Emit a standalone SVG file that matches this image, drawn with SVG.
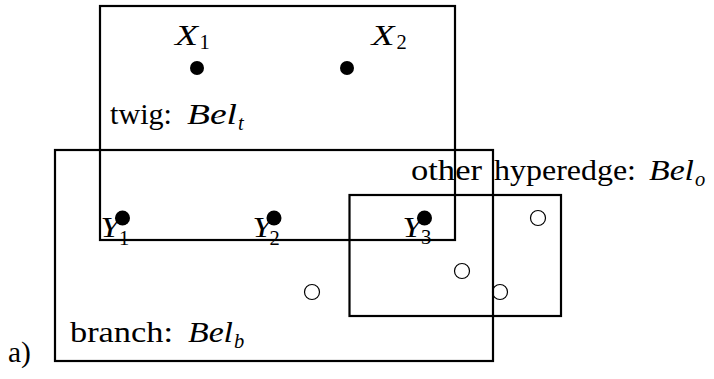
<svg xmlns="http://www.w3.org/2000/svg" width="714" height="379" viewBox="0 0 714 379">
<style>
.box{fill:none;stroke:#000;stroke-width:2.2}
.dot{fill:#000}
.open{fill:none;stroke:#000;stroke-width:1.2}
text{font-family:"Times New Roman","Liberation Serif",serif;fill:#000}
.t{font-size:29.5px}
.m{font-size:29.5px;font-style:italic}
.s{font-size:20.5px}
.si{font-size:20.5px;font-style:italic}
</style>
<rect width="714" height="379" fill="#fff"/>
<g id="twig">
<rect class="box" x="100" y="6" width="355" height="234"/>
<text class="t" x="110" y="123.5" textLength="62" lengthAdjust="spacingAndGlyphs">twig:</text>
<text class="m" x="187" y="123.5" textLength="50" lengthAdjust="spacingAndGlyphs">Bel</text>
<text class="si" x="238" y="129.5">t</text>
</g>
<g id="branch">
<rect class="box" x="55" y="150" width="438" height="211"/>
<text class="t" x="70" y="342" textLength="103" lengthAdjust="spacingAndGlyphs">branch:</text>
<text class="m" x="188" y="342" textLength="45" lengthAdjust="spacingAndGlyphs">Bel</text>
<text class="si" x="234" y="347.5">b</text>
</g>
<g id="other">
<rect class="box" x="349.5" y="195" width="211.5" height="121"/>
<text class="t" x="411" y="180" textLength="71" lengthAdjust="spacingAndGlyphs">other</text>
<text class="t" x="494" y="180" textLength="142" lengthAdjust="spacingAndGlyphs">hyperedge:</text>
<text class="m" x="649" y="180" textLength="45" lengthAdjust="spacingAndGlyphs">Bel</text>
<text class="si" x="695" y="185.5">o</text>
</g>
<g id="X1">
<circle class="dot" cx="197" cy="68" r="7"/>
<text class="m" x="175" y="44.5" textLength="23" lengthAdjust="spacingAndGlyphs">X</text>
<text class="s" x="199.5" y="49">1</text>
</g>
<g id="X2">
<circle class="dot" cx="347" cy="68" r="7"/>
<text class="m" x="371.5" y="44.5" textLength="23" lengthAdjust="spacingAndGlyphs">X</text>
<text class="s" x="396.5" y="49">2</text>
</g>
<g id="Y1">
<circle class="dot" cx="122.5" cy="218" r="7.5"/>
<text class="m" x="100.5" y="237" textLength="19" lengthAdjust="spacingAndGlyphs">Y</text>
<text class="s" x="119" y="244.5">1</text>
</g>
<g id="Y2">
<circle class="dot" cx="274" cy="218" r="7.5"/>
<text class="m" x="252.5" y="237" textLength="19" lengthAdjust="spacingAndGlyphs">Y</text>
<text class="s" x="269.5" y="244.5">2</text>
</g>
<g id="Y3">
<circle class="dot" cx="424.5" cy="218" r="7.5"/>
<text class="m" x="402.5" y="237" textLength="19" lengthAdjust="spacingAndGlyphs">Y</text>
<text class="s" x="421" y="244">3</text>
</g>
<g id="o1"><circle class="open" cx="538" cy="218" r="7.5"/></g>
<g id="o2"><circle class="open" cx="462" cy="271" r="7.5"/></g>
<g id="o3"><circle class="open" cx="312" cy="292" r="7.5"/></g>
<g id="o4"><circle class="open" cx="500" cy="292" r="7.5"/></g>
<g id="label-a">
<text class="t" x="8" y="362">a)</text>
</g>
</svg>
